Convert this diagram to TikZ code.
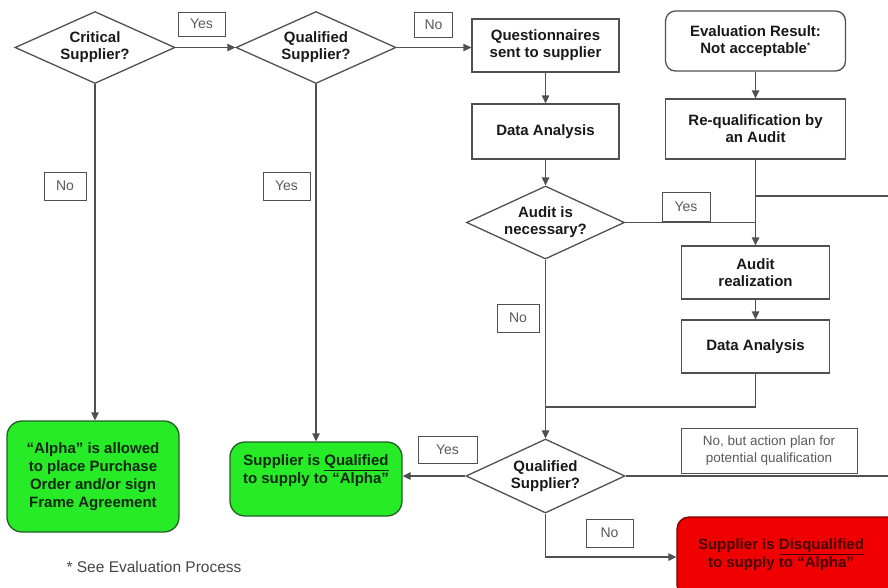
\documentclass[tikz,border=0pt]{standalone}
\usepackage{fontspec}
\setmainfont{Liberation Sans}
\usetikzlibrary{shapes.geometric,arrows.meta}
\definecolor{linegray}{RGB}{80,80,80}
\definecolor{boxtext}{RGB}{25,25,25}
\definecolor{lbltext}{RGB}{90,90,90}
\definecolor{okgreen}{RGB}{40,235,40}
\definecolor{okgreenborder}{RGB}{35,95,35}
\definecolor{okgreentext}{RGB}{15,40,15}
\definecolor{badred}{RGB}{240,0,0}
\definecolor{badredborder}{RGB}{120,0,0}
\definecolor{badredtext}{RGB}{70,0,0}
\definecolor{foottext}{RGB}{70,70,70}
\tikzset{
  conn/.style={draw=linegray, line width=1.3pt},
  arr/.style={conn, -{Triangle[length=8pt,width=7.5pt]}},
  dia/.style={draw=linegray, line width=1.3pt, shape=diamond, aspect=2.2, inner sep=0pt,
    minimum width=160pt, minimum height=72pt, align=center, text=boxtext,
    font=\fontsize{15}{17}\selectfont\bfseries},
  procbox/.style={draw=linegray, line width=1.3pt, rectangle, align=center, text=boxtext,
    inner sep=0pt, font=\fontsize{15}{17}\selectfont\bfseries},
  roundbox/.style={procbox, rounded corners=10pt},
  greenbox/.style={draw=okgreenborder, line width=1.3pt, fill=okgreen, rounded corners=15pt,
    align=center, text=okgreentext, inner sep=0pt, font=\fontsize{15}{18}\selectfont\bfseries},
  redbox/.style={draw=badredborder, line width=1.3pt, fill=badred, rounded corners=12pt, inner sep=0pt},
  lbl/.style={draw=linegray, line width=1pt, fill=white, rectangle, inner sep=0pt, text=lbltext,
    align=center, font=\fontsize{14}{16}\selectfont},
  smalllbl/.style={lbl, font=\fontsize{13.5}{17}\selectfont},
}
\begin{document}
\begin{tikzpicture}[x=1pt,y=-1pt]
\useasboundingbox (0,0) rectangle (888,587);
\clip (0,0) rectangle (888,587);

% decisions
\node[dia] (crit) at (95,47.5) {Critical\\Supplier?};
\node[dia] (qual1) at (316,47.5) {Qualified\\Supplier?};
\node[dia, minimum width=158pt, minimum height=73pt] (audq) at (545.5,222.5) {Audit is\\necessary?};
\node[dia, minimum width=159pt, minimum height=74pt] (qual2) at (545.5,476) {Qualified\\Supplier?};

% process boxes
\node[procbox, minimum width=147pt, minimum height=53pt] (quest) at (545.5,45.5) {Questionnaires\\sent to supplier};
\node[procbox, minimum width=147pt, minimum height=55pt] (da1) at (545.5,131.5) {Data Analysis};
\node[roundbox, minimum width=180pt, minimum height=60pt] (eval) at (755.5,41) {Evaluation Result:\\Not acceptable\textsuperscript{\fontsize{8}{8}\selectfont*}};
\node[procbox, minimum width=180pt, minimum height=60pt] (requal) at (755.5,129) {Re-qualification by\\an Audit};
\node[procbox, minimum width=148pt, minimum height=53pt] (ar) at (755.5,272.5) {Audit\\realization};
\node[procbox, minimum width=148pt, minimum height=53pt] (da2) at (755.5,346.5) {Data Analysis};

% outcome boxes
\node[greenbox, minimum width=172pt, minimum height=111pt] (green1) at (93,476.5)
  {“Alpha” is allowed\\to place Purchase\\Order and/or sign\\Frame Agreement};
\node[greenbox, minimum width=172pt, minimum height=74pt] (green2) at (316,479) {};
\node[align=center, text=okgreentext, font=\fontsize{15}{18}\selectfont\bfseries, inner sep=0pt] (green2txt) at (316,471)
  {Supplier is \underline{Qualified}\\to supply to “Alpha”};
\node[redbox, minimum width=230pt, minimum height=80pt] (red) at (792,557) {};
\node[align=center, text=badredtext, font=\fontsize{15}{18}\selectfont\bfseries, inner sep=0pt] (redtxt) at (781,555)
  {Supplier is \underline{Disqualified}\\to supply to “Alpha”};

% footnote
\node[text=foottext, font=\fontsize{15.5}{18}\selectfont, inner sep=0pt] (foot) at (154,567) {* See Evaluation Process};

% free ends
\coordinate (jA) at (755.5,196);
\coordinate (exitA) at (892,196);
\coordinate (jB) at (545.5,407);
\coordinate (exitB) at (892,476);

% connectors
\draw[arr] (crit.east) -- (qual1.west);
\draw[arr] (qual1.east) -- (qual1.east -| quest.west);
\draw[arr] (quest.south) -- (da1.north);
\draw[arr] (da1.south) -- (audq.north);
\draw[arr] (eval.south) -- (requal.north);
\draw[arr] (requal.south) -- (ar.north);
\draw[conn] (jA) -- (exitA);
\draw[conn] (audq.east) -- (audq.east -| ar.north);
\draw[arr] (ar.south) -- (da2.north);
\draw[conn] (da2.south) |- (jB);
\draw[arr] (audq.south) -- (qual2.north);
\draw[arr] (qual2.west) -- (qual2.west -| green2.east);
\draw[conn] (qual2.east) -- (exitB);
\draw[arr] (qual2.south) |- (red.west);
\draw[arr] (crit.south) -- (crit.south |- green1.north);
\draw[arr] (qual1.south) -- (green2.north);

% branch labels
\node[lbl, minimum width=47pt, minimum height=24pt] (yes1) at (201.5,24) {Yes};
\node[lbl, minimum width=38pt, minimum height=25pt] (no1) at (433.5,24.5) {No};
\node[lbl, minimum width=42pt, minimum height=28pt] (no2) at (65,186) {No};
\node[lbl, minimum width=47pt, minimum height=28pt] (yes2) at (286.5,186) {Yes};
\node[lbl, minimum width=48pt, minimum height=29pt] (yes3) at (686,206.5) {Yes};
\node[lbl, minimum width=42pt, minimum height=28pt] (no3) at (518,318) {No};
\node[lbl, minimum width=59pt, minimum height=27pt] (yes4) at (447.5,449.5) {Yes};
\node[lbl, minimum width=47pt, minimum height=28pt] (no4) at (609.5,533) {No};
\node[smalllbl, minimum width=176pt, minimum height=45pt] (nobut) at (769,450.5) {No, but action plan for\\potential qualification};
\end{tikzpicture}
\end{document}
